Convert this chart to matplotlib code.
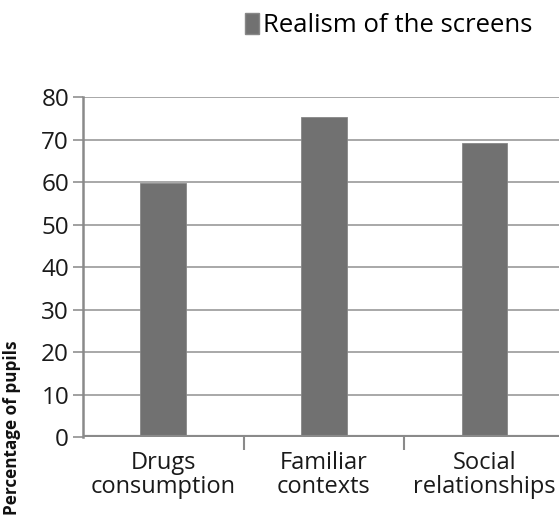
import matplotlib.pyplot as plt
from matplotlib.patches import Patch

plt.rcParams['font.family'] = ['Open Sans', 'DejaVu Sans']

categories = ['Drugs\nconsumption', 'Familiar\ncontexts', 'Social\nrelationships']
realism = [59.8, 75.2, 69.2]
yticks = [0, 10, 20, 30, 40, 50, 60, 70, 80]

fig = plt.figure(figsize=(5.59, 5.21), dpi=100)
ax = fig.add_axes([0.1485, 0.1612, 0.862, 0.6526])

x = list(range(len(categories)))
ax.bar(x, realism, width=0.285, color='#717171', edgecolor='#888888', linewidth=0.6, zorder=3)

ax.set_xlim(-0.5, 2.5)
ax.set_ylim(0, 80)
ax.set_yticks(yticks)
ax.set_yticklabels([str(v) for v in yticks], fontsize=17.5, color='#1a1a1a')
ax.yaxis.grid(True, color='#a8a8a8', linewidth=1.4, zorder=0)
ax.axhline(0, color='#8a8a8a', linewidth=3, zorder=4)

ax.set_xticks(x)
ax.set_xticklabels(categories, fontsize=17, color='#1a1a1a', linespacing=1.0)
ax.tick_params(axis='x', length=0, pad=10)
ax.set_xticks([0.5, 1.5], minor=True)
ax.tick_params(axis='x', which='minor', length=9, width=1.5, color='#8a8a8a')
ax.tick_params(axis='y', length=7, width=1.4, color='#a0a0a0', pad=3)

for s in ['top', 'right', 'bottom']:
    ax.spines[s].set_visible(False)
ax.spines['left'].set_color('#8a8a8a')
ax.spines['left'].set_linewidth(1.8)

fig.text(0.022, 0.012, 'Percentage of pupils', rotation=90, fontsize=12.3,
         fontweight='bold', ha='center', va='bottom', color='#111111')

handles = [Patch(facecolor='#717171', edgecolor='#888888', label='Realism of the screens')]
fig.legend(handles=handles, loc='upper right', bbox_to_anchor=(0.975, 1.0), frameon=False,
           fontsize=18.5, handlelength=0.55, handleheight=0.9, handletextpad=0.15,
           borderaxespad=0.1)

fig.savefig('out.png', dpi=100)
